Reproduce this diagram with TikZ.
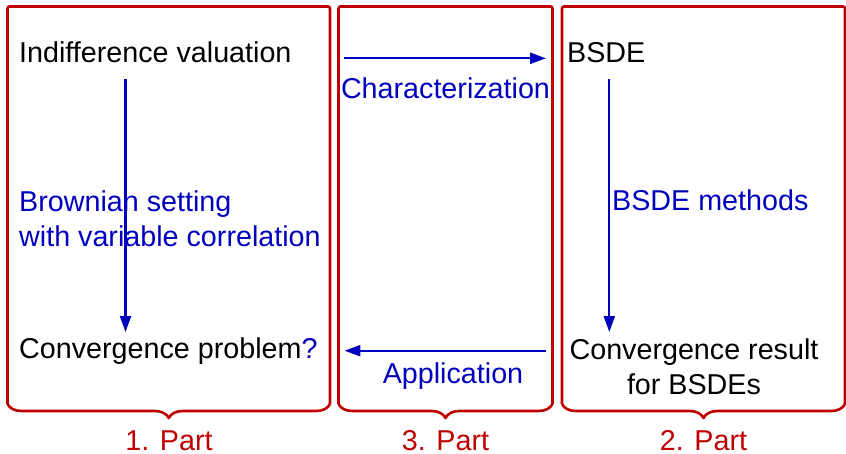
\documentclass[tikz,border=0pt]{standalone}
\usepackage{fontspec}
\setmainfont{Liberation Sans}
\usetikzlibrary{arrows.meta,decorations.pathreplacing}
\definecolor{partred}{RGB}{191,0,0}
\definecolor{linkblue}{RGB}{0,0,191}
\begin{document}
\begin{tikzpicture}[x=1pt,y=1pt,
  txt/.style={font=\fontsize{28.7}{35}\selectfont, inner sep=0pt, text=black},
  lbl/.style={txt, text=linkblue},
  partlbl/.style={txt, text=partred, anchor=base},
  frame/.style={draw=partred, line width=2.6pt, rounded corners=2pt},
  bracepart/.style={draw=partred, line width=2.6pt, line join=round, decorate,
                    decoration={brace, amplitude=14pt}},
  link/.style={draw=linkblue, line width=2.2pt, -{Triangle[length=16pt,width=11pt]}}]

\useasboundingbox (0,0) rectangle (846,453);

% the three framed parts, each closed by a brace
\draw[frame] (7.5,49) -- (7.5,446.5) -- (330,446.5) -- (330,49);
\draw[bracepart] (330,49) -- (7.5,49);
\draw[frame] (338.5,49) -- (338.5,446.5) -- (552.5,446.5) -- (552.5,49);
\draw[bracepart] (552.5,49) -- (338.5,49);
\draw[frame] (562,49) -- (562,446.5) -- (845,446.5) -- (845,49);
\draw[bracepart] (845,49) -- (562,49);

% part labels
\node[partlbl] (p1) at (169,3) {1. Part};
\node[partlbl] (p3) at (445.5,3) {3. Part};
\node[partlbl] (p2) at (703.5,3) {2. Part};

% statements
\node[txt, anchor=base west] (iv) at (19,390) {Indifference valuation};
\node[txt, anchor=base west] (cp) at (19,95) {Convergence problem{\color{linkblue}?}};
\node[txt, anchor=base west] (bsde) at (567,390) {BSDE};
\node[txt, anchor=base, align=center] (cr) at (694,59) {Convergence result\\for BSDEs};

% connector labels
\node[lbl, anchor=base west, align=left] (brown) at (19,206.3) {Brownian setting\\with variable correlation};
\node[lbl, anchor=base west] (meth) at (612,242.3) {BSDE methods};
\node[lbl, anchor=base] (char) at (445.5,354.7) {Characterization};
\node[lbl, anchor=base] (app) at (453,70) {Application};

% connectors
\draw[link] ([xshift=106.5pt,yshift=-16.3pt]iv.base west) -- ([xshift=106.5pt,yshift=26pt]cp.base west);
\draw[link] ([xshift=42.3pt,yshift=-16.3pt]bsde.base west) -- ([xshift=-84.7pt,yshift=62pt]cr.base);
\draw[link] ([xshift=52.2pt,yshift=4.7pt]iv.base east) -- ([xshift=-21pt,yshift=4.7pt]bsde.base west);
\draw[link] ([xshift=-148pt,yshift=43.3pt]cr.base) -- ([xshift=26.7pt,yshift=7.3pt]cp.base east);
\end{tikzpicture}
\end{document}
